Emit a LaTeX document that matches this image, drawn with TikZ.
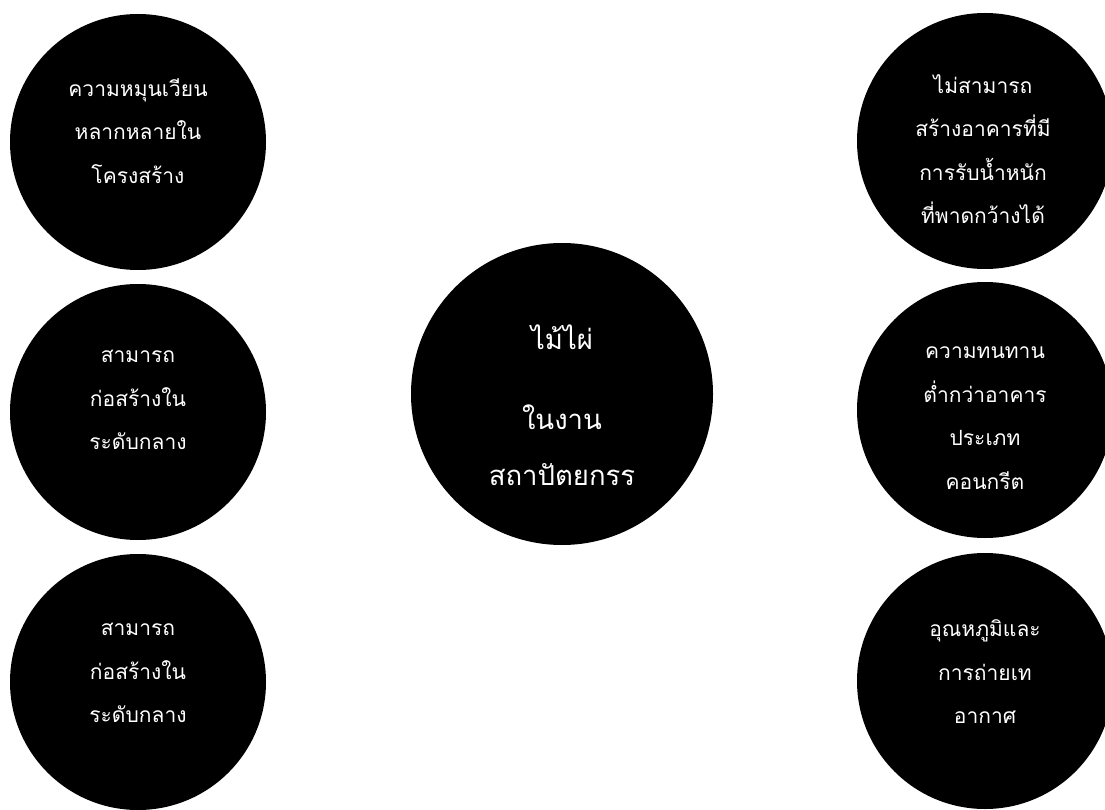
\documentclass[tikz,border=0pt]{standalone}
\usepackage{fontspec}
\newfontfamily\thaifont[Script=Thai]{Loma}
\begin{document}
\begin{tikzpicture}[x=1pt,y=-1pt,
  bubble/.style={circle,fill=black,draw=none,minimum size=256pt,inner sep=0pt},
  bigbubble/.style={circle,fill=black,draw=none,minimum size=302pt,inner sep=0pt},
  txt/.style={text=white,align=center,font=\thaifont\fontsize{21}{43.5}\selectfont},
  bigtxt/.style={text=white,align=center,font=\thaifont\fontsize{27.5}{56}\selectfont}]
\useasboundingbox (0,0) rectangle (1105,810);
\clip (0,0) rectangle (1105,810);
% left column
\node[bubble] (l1) at (138,142) {};
\node[bubble] (l2) at (138,412) {};
\node[bubble] (l3) at (138,682) {};
% right column
\node[bubble] (r1) at (985,141) {};
\node[bubble] (r2) at (985,410) {};
\node[bubble] (r3) at (985,681) {};
% centre
\node[bigbubble] (c) at (562,394) {};
% texts
\node[txt] (l1t) at (138,131) {ความหมุนเวียน\\หลากหลายใน\\โครงสร้าง};
\node[txt] (l2t) at (138,400) {สามารถ\\ก่อสร้างใน\\ระดับกลาง};
\node[txt] (l3t) at (138,673) {สามารถ\\ก่อสร้างใน\\ระดับกลาง};
\node[txt] (r1t) at (983,149) {ไม่สามารถ\\สร้างอาคารที่มี\\การรับน้ำหนัก\\ที่พาดกว้างได้};
\node[txt] (r2t) at (985,418) {ความทนทาน\\ต่ำกว่าอาคาร\\ประเภท\\คอนกรีต};
\node[txt] (r3t) at (985,672) {อุณหภูมิและ\\การถ่ายเท\\อากาศ};
\node[bigtxt] (ct) at (562,405) {ไม้ไผ่\\[24pt]ในงาน\\สถาปัตยกรร};
\end{tikzpicture}
\end{document}
